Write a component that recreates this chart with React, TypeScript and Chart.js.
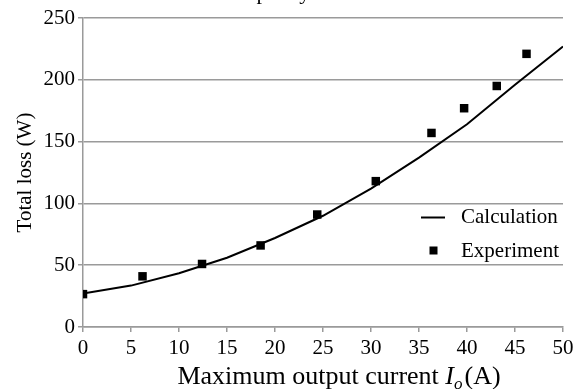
import React, { useEffect, useRef } from 'react';
import { Chart, registerables } from 'chart.js';

Chart.register(...registerables);

const calcX = [0, 5, 10, 15, 20, 25, 30, 35, 40, 45, 50];
const calcY = [27, 33.5, 43.5, 56, 72, 90, 112, 137, 164, 196, 227];
const expX = [0, 6.2, 12.4, 18.5, 24.4, 30.5, 36.3, 39.7, 43.1, 46.2];
const expY = [26.6, 41, 51, 66, 91, 118, 157, 177, 195, 221];
const xTicks = [0, 5, 10, 15, 20, 25, 30, 35, 40, 45, 50];
const yTicks = [0, 50, 100, 150, 200, 250];
const seriesNames = ['Calculation', 'Experiment'];
const yTitle = 'Total loss (W)';
const xTitleParts = ['Maximum output current ', 'I', 'o', '(A)'];
const captionText = 'capacity.';

const SERIF = '"Liberation Serif", "DejaVu Serif", serif';
const GRID = '#9a9a9a';

const textPlugin = {
  id: 'customText',
  afterDraw(chart: any) {
    const ctx = chart.ctx as CanvasRenderingContext2D;
    const area = chart.chartArea;
    ctx.save();
    ctx.fillStyle = '#000';
    ctx.strokeStyle = '#000';

    // clipped caption at the top
    ctx.font = `22px ${SERIF}`;
    ctx.textAlign = 'left';
    ctx.textBaseline = 'alphabetic';
    ctx.fillText(captionText, 237, -1);

    // y title
    ctx.save();
    ctx.translate(25, (area.top + area.bottom) / 2);
    ctx.rotate(-Math.PI / 2);
    ctx.font = `21px ${SERIF}`;
    ctx.textAlign = 'center';
    ctx.textBaseline = 'middle';
    ctx.fillText(yTitle, 0, 0);
    ctx.restore();

    // x title with italic I and subscript o
    const big = `26px ${SERIF}`;
    const bigIt = `italic 26px ${SERIF}`;
    const small = `italic 17px ${SERIF}`;
    const fonts = [big, bigIt, small, big];
    const offs = [0, 0, 5, 0];
    const widths = xTitleParts.map((t, i) => {
      ctx.font = fonts[i];
      return ctx.measureText(t).width;
    });
    const gap = 2;
    const total = widths.reduce((a, b) => a + b, 0) + gap;
    let x = 339 - total / 2;
    const baseY = 384;
    ctx.textAlign = 'left';
    ctx.textBaseline = 'alphabetic';
    xTitleParts.forEach((t, i) => {
      ctx.font = fonts[i];
      ctx.fillText(t, x, baseY + offs[i]);
      x += widths[i] + (i === 2 ? gap : 0);
    });

    // legend
    ctx.lineWidth = 2;
    ctx.beginPath();
    ctx.moveTo(421, 217.5);
    ctx.lineTo(445, 217.5);
    ctx.stroke();
    ctx.fillRect(429.5, 246.5, 8, 8);
    ctx.font = `21px ${SERIF}`;
    ctx.textBaseline = 'middle';
    ctx.fillText(seriesNames[0], 461, 217);
    ctx.fillText(seriesNames[1], 461, 251);

    ctx.restore();
  },
};

export default function App() {
  const ref = useRef<HTMLCanvasElement>(null);
  useEffect(() => {
    document.body.style.margin = '0';
    const canvas = ref.current!;
    const tickFont = { family: SERIF, size: 21 };
    const chart = new Chart(canvas, {
      type: 'scatter',
      data: {
        datasets: [
          {
            label: seriesNames[0],
            data: calcX.map((x, i) => ({ x, y: calcY[i] })),
            showLine: true,
            borderColor: '#000',
            backgroundColor: '#000',
            borderWidth: 2,
            pointRadius: 0,
            tension: 0,
          },
          {
            label: seriesNames[1],
            data: expX.map((x, i) => ({ x, y: expY[i] })),
            showLine: false,
            pointStyle: 'rect',
            pointRadius: 6,
            backgroundColor: '#000',
            borderColor: '#000',
            borderWidth: 0,
          },
        ],
      },
      options: {
        responsive: false,
        animation: false,
        layout: { padding: { top: 18, right: 19, left: 0, bottom: 0 } },
        plugins: {
          legend: { display: false },
          tooltip: { enabled: false },
          title: { display: false },
        },
        scales: {
          x: {
            type: 'linear',
            min: 0,
            max: 50,
            afterBuildTicks: (s: any) => {
              s.ticks = xTicks.map((v) => ({ value: v }));
            },
            ticks: { font: tickFont, color: '#000', padding: 4, maxRotation: 0, autoSkip: false },
            grid: { drawOnChartArea: false, drawTicks: true, tickLength: 5, color: GRID, lineWidth: 1.5 },
            border: { color: GRID, width: 1.5 },
            afterFit: (s: any) => {
              s.height = 62;
            },
          },
          y: {
            type: 'linear',
            min: 0,
            max: 250,
            afterBuildTicks: (s: any) => {
              s.ticks = yTicks.map((v) => ({ value: v }));
            },
            ticks: { font: tickFont, color: '#000', padding: 3, autoSkip: false },
            grid: { drawTicks: true, tickLength: 5, color: GRID, lineWidth: 1.5 },
            border: { color: GRID, width: 1.5 },
            afterFit: (s: any) => {
              s.width = 83;
            },
          },
        },
      },
      plugins: [textPlugin],
    });
    return () => chart.destroy();
  }, []);
  return <canvas ref={ref} width={582} height={389} style={{ display: 'block' }} />;
}
